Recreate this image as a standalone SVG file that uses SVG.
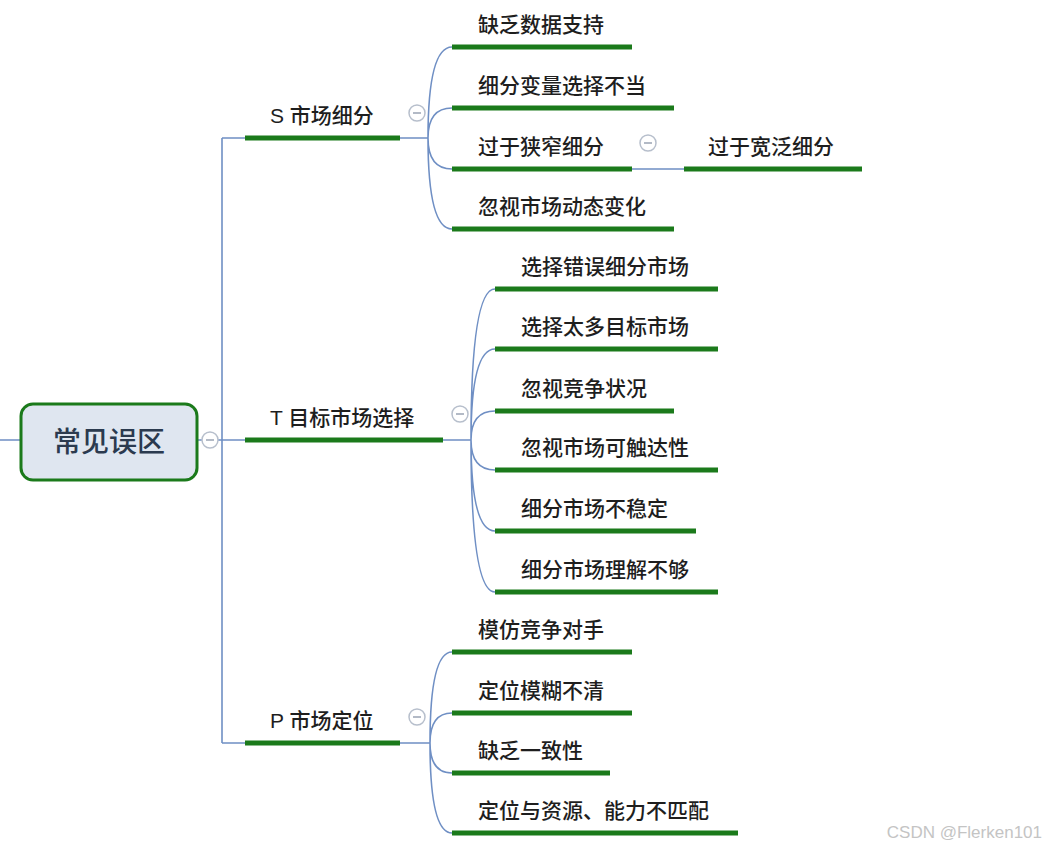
<svg xmlns="http://www.w3.org/2000/svg" width="1047" height="851" viewBox="0 0 1047 851">
<style>
.t{font-family:"Liberation Sans","Noto Sans CJK SC",sans-serif;font-size:21px;fill:#1e1e1e;font-weight:500}
.u{stroke:#1b7a1b;stroke-width:5;stroke-linecap:butt}
.c{fill:none;stroke:#6f8fc4;stroke-width:1.6}
.k{fill:#fff;stroke:#b7bfcc;stroke-width:1.5}
.m{stroke:#9aa3b3;stroke-width:1.5}
</style>
<rect width="1047" height="851" fill="#fff"/>
<g id="connectors">
<path class="c" d="M0 440H21 M197 440H202 M218 440H222 M222 138V743 M222 138H245 M222 440H245 M222 743H245"/>
<path class="c" d="M400 138H428 M428 138Q428 47 452 47 M428 138Q428 108 452 108 M428 138Q428 169 452 169 M428 138Q428 229 452 229 M632 169H684"/>
<path class="c" d="M443 440H471 M471 440Q471 289 495 289 M471 440Q471 349 495 349 M471 440Q471 411 495 411 M471 440Q471 470 495 470 M471 440Q471 531 495 531 M471 440Q471 592 495 592"/>
<path class="c" d="M400 743H430 M430 743Q430 652 452 652 M430 743Q430 713 452 713 M430 743Q430 773 452 773 M430 743Q430 833 452 833"/>
</g>
<g id="root">
<rect x="21" y="404" width="176" height="76" rx="12" fill="#dfe6f0" stroke="#1b7a1b" stroke-width="3"/>
<text x="109" y="452" text-anchor="middle" font-family="Liberation Sans,Noto Sans CJK SC,sans-serif" font-size="28" font-weight="500" fill="#2b3a4f">常见误区</text>
<circle class="k" cx="210" cy="440" r="8"/><line class="m" x1="206" y1="440" x2="214" y2="440"/>
</g>
<g id="s">
<line class="u" x1="245" y1="138" x2="400" y2="138"/>
<text class="t" x="270" y="123">S 市场细分</text>
<circle class="k" cx="417" cy="113" r="8"/><line class="m" x1="413" y1="113" x2="421" y2="113"/>
</g>
<g id="s1"><line class="u" x1="452" y1="47" x2="632" y2="47"/><text class="t" x="478" y="32">缺乏数据支持</text></g>
<g id="s2"><line class="u" x1="452" y1="108" x2="674" y2="108"/><text class="t" x="478" y="93">细分变量选择不当</text></g>
<g id="s3"><line class="u" x1="452" y1="169" x2="632" y2="169"/><text class="t" x="478" y="154">过于狭窄细分</text>
<circle class="k" cx="648" cy="143" r="8"/><line class="m" x1="644" y1="143" x2="652" y2="143"/></g>
<g id="s3a"><line class="u" x1="684" y1="169" x2="862" y2="169"/><text class="t" x="708" y="154">过于宽泛细分</text></g>
<g id="s4"><line class="u" x1="452" y1="229" x2="674" y2="229"/><text class="t" x="478" y="214">忽视市场动态变化</text></g>
<g id="t">
<line class="u" x1="245" y1="440" x2="443" y2="440"/>
<text class="t" x="270" y="425">T 目标市场选择</text>
<circle class="k" cx="460" cy="414" r="8"/><line class="m" x1="456" y1="414" x2="464" y2="414"/>
</g>
<g id="t1"><line class="u" x1="495" y1="289" x2="718" y2="289"/><text class="t" x="521" y="274">选择错误细分市场</text></g>
<g id="t2"><line class="u" x1="495" y1="349" x2="718" y2="349"/><text class="t" x="521" y="334">选择太多目标市场</text></g>
<g id="t3"><line class="u" x1="495" y1="411" x2="674" y2="411"/><text class="t" x="521" y="396">忽视竞争状况</text></g>
<g id="t4"><line class="u" x1="495" y1="470" x2="718" y2="470"/><text class="t" x="521" y="455">忽视市场可触达性</text></g>
<g id="t5"><line class="u" x1="495" y1="531" x2="696" y2="531"/><text class="t" x="521" y="516">细分市场不稳定</text></g>
<g id="t6"><line class="u" x1="495" y1="592" x2="718" y2="592"/><text class="t" x="521" y="577">细分市场理解不够</text></g>
<g id="p">
<line class="u" x1="245" y1="743" x2="400" y2="743"/>
<text class="t" x="270" y="728">P 市场定位</text>
<circle class="k" cx="417" cy="717" r="8"/><line class="m" x1="413" y1="717" x2="421" y2="717"/>
</g>
<g id="p1"><line class="u" x1="452" y1="652" x2="632" y2="652"/><text class="t" x="478" y="637">模仿竞争对手</text></g>
<g id="p2"><line class="u" x1="452" y1="713" x2="632" y2="713"/><text class="t" x="478" y="698">定位模糊不清</text></g>
<g id="p3"><line class="u" x1="452" y1="773" x2="610" y2="773"/><text class="t" x="478" y="758">缺乏一致性</text></g>
<g id="p4"><line class="u" x1="452" y1="833" x2="738" y2="833"/><text class="t" x="478" y="818">定位与资源、能力不匹配</text></g>
<text x="1042" y="838" text-anchor="end" font-family="Liberation Sans,sans-serif" font-size="17" fill="#c4c4c4">CSDN @Flerken101</text>
</svg>
